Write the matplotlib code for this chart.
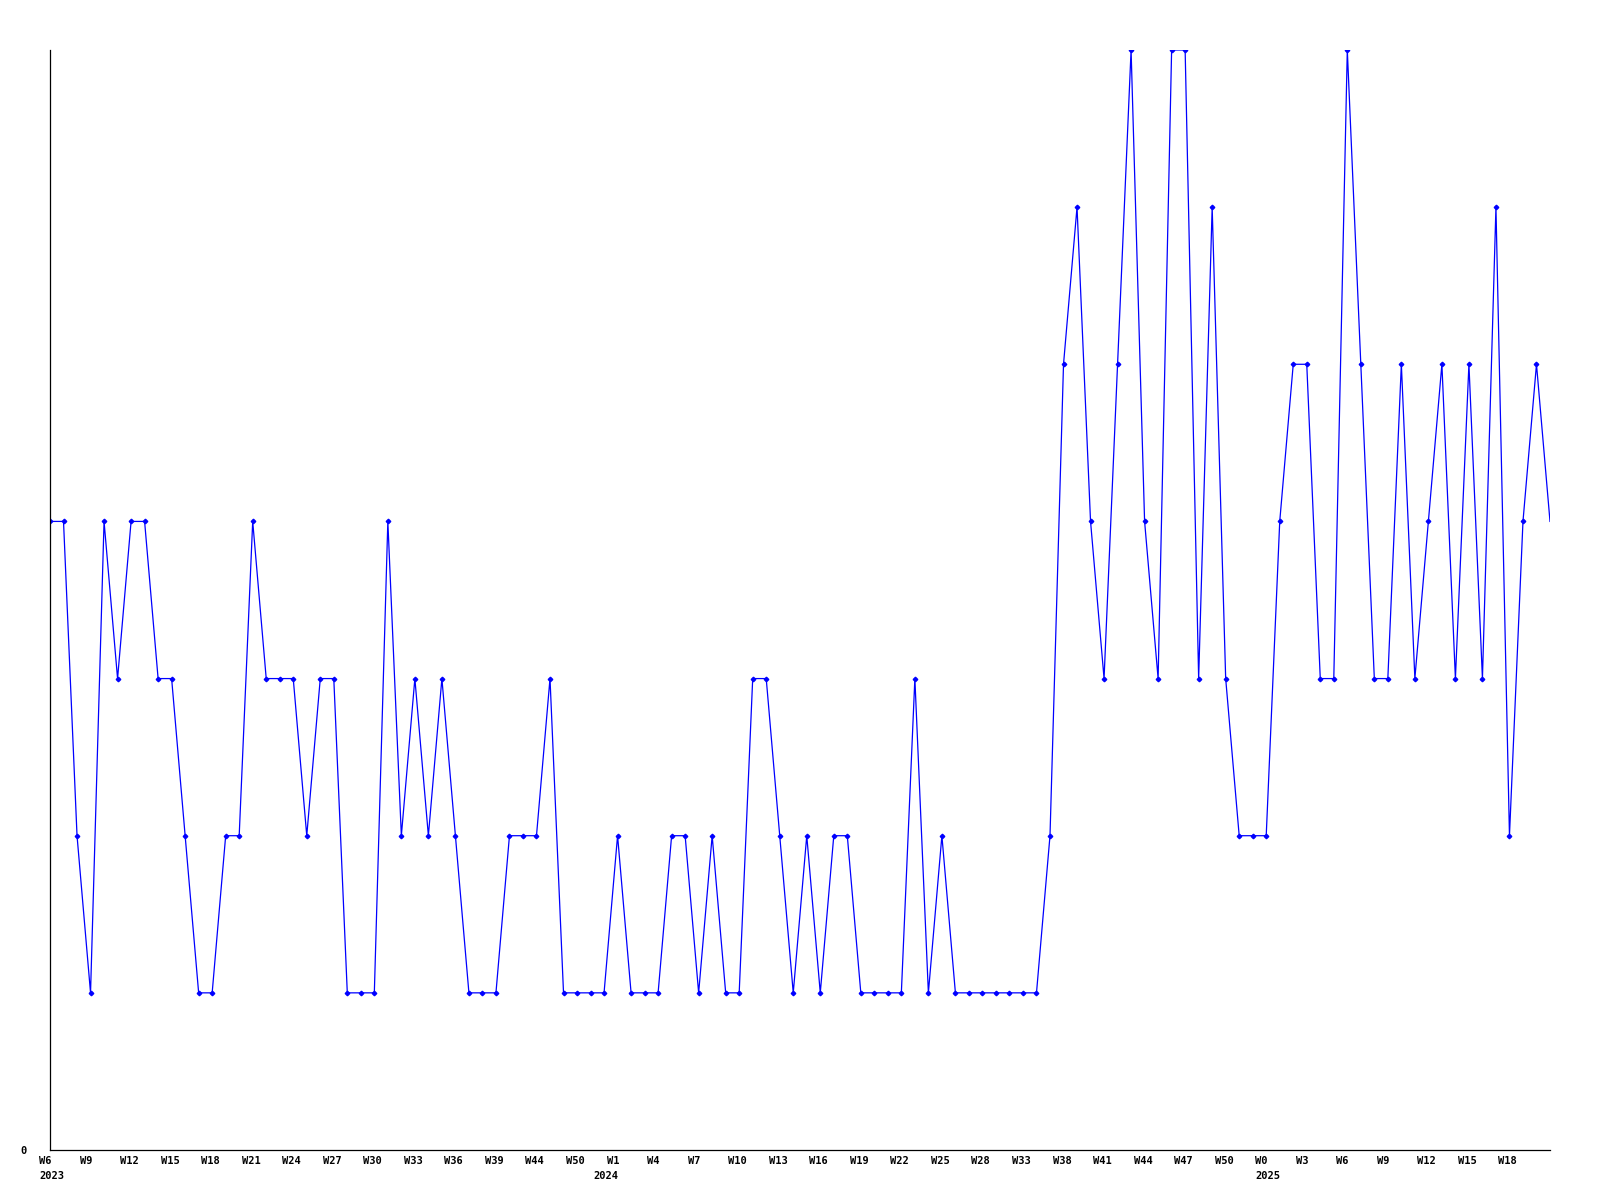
import matplotlib
matplotlib.use("Agg")
import matplotlib.pyplot as plt

# weekly counts, one point per reported week
values = [
    4, 4, 2, 1, 4, 3, 4, 4, 3, 3, 2, 1, 1, 2, 2, 4, 3, 3, 3, 2,
    3, 3, 1, 1, 1, 4, 2, 3, 2, 3, 2, 1, 1, 1, 2, 2, 2, 3, 1, 1,
    1, 1, 2, 1, 1, 1, 2, 2, 1, 2, 1, 1, 3, 3, 2, 1, 2, 1, 2, 2,
    1, 1, 1, 1, 3, 1, 2, 1, 1, 1, 1, 1, 1, 1, 2, 5, 6, 4, 3, 5,
    7, 4, 3, 7, 7, 3, 6, 3, 2, 2, 2, 4, 5, 5, 3, 3, 7, 5, 3, 3,
    5, 3, 4, 5, 3, 5, 3, 6, 2, 4, 5, 4,
]

# x labels every third point
week_labels = [
    "W6", "W9", "W12", "W15", "W18", "W21", "W24", "W27", "W30", "W33",
    "W36", "W39", "W44", "W50", "W1", "W4", "W7", "W10", "W13", "W16",
    "W19", "W22", "W25", "W28", "W33", "W38", "W41", "W44", "W47", "W50",
    "W0", "W3", "W6", "W9", "W12", "W15", "W18",
]
year_labels = {0: "2023", 42: "2024", 90: "2025"}

FONT = dict(family="DejaVu Sans Mono", fontweight="bold", fontsize=7.5)

fig = plt.figure(figsize=(16, 12), dpi=100)
ax = fig.add_axes([0.03125, 0.04167, 0.9375, 0.91667])

x = list(range(len(values)))
ax.plot(x, values, color="#0000ff", linewidth=0.9,
        marker="D", markersize=2.3, markevery=slice(0, len(values) - 1))

ax.set_xlim(0, len(values) - 1)
ax.set_ylim(0, 7)

for s in ("top", "right"):
    ax.spines[s].set_visible(False)
for s in ("left", "bottom"):
    ax.spines[s].set_linewidth(0.9)
    ax.spines[s].set_color("black")

ax.set_xticks([])
ax.set_yticks([0])
ax.set_yticklabels(["0"], **FONT)
ax.tick_params(axis="y", length=0, pad=17)

for i, lab in enumerate(week_labels):
    ax.annotate(lab, (i * 3, 0), xycoords=("data", "axes fraction"),
                xytext=(-11, -6), textcoords="offset pixels",
                ha="left", va="top", **FONT)

for i, lab in year_labels.items():
    dx = -24 if i == 42 else -11
    ax.annotate(lab, (i, 0), xycoords=("data", "axes fraction"),
                xytext=(dx, -21), textcoords="offset pixels",
                ha="left", va="top", **FONT)

fig.savefig("out.png", dpi=100)
